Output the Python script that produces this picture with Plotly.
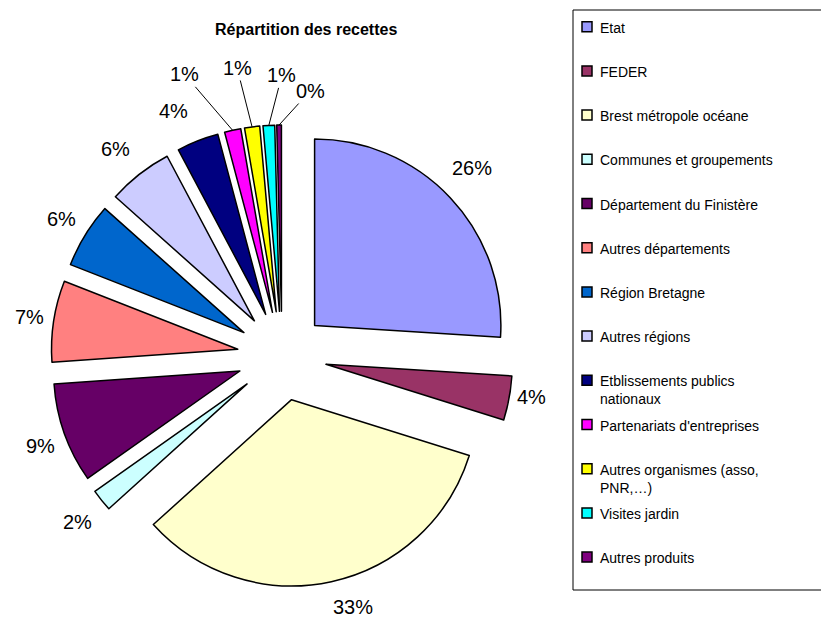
import math
import plotly.graph_objects as go

labels = ['Etat', 'FEDER', 'Brest métropole océane', 'Communes et groupements',
          'Département du Finistère', 'Autres départements', 'Région Bretagne',
          'Autres régions', 'Etblissements publics<br>nationaux',
          "Partenariats d'entreprises", 'Autres organismes (asso,<br>PNR,…)',
          'Visites jardin', 'Autres produits']
values = [25.8, 3.8, 33.2, 1.9, 8.6, 7.0, 5.6, 5.6, 3.6, 1.4, 1.3, 1.0, 0.4]
colors = ['#9999FF', '#993366', '#FFFFCC', '#CCFFFF', '#660066', '#FF8080', '#0066CC',
          '#CCCCFF', '#000080', '#FF00FF', '#FFFF00', '#00FFFF', '#800080']

W, H = 829, 617
font_plot = 'Arial, Liberation Sans, sans-serif'
PULL = 0.24
# pie box in pixels (left, right, top, bottom)
BOX = (43, 505, 117, 579)

def px(x):
    return x / W

def py(y):
    return 1 - y / H

# the four thinnest slices get leader lines (Excel style)
small = [9, 10, 11, 12]
leader_offsets = {9: (-48, -56), 10: (-15, -59), 11: (13, -50), 12: (31, -34)}

fig = go.Figure(go.Pie(
    labels=labels, values=values, sort=False, direction='clockwise', rotation=0,
    marker=dict(colors=colors, line=dict(color='black', width=1.5)),
    pull=[PULL] * len(values), textposition='none',
    domain=dict(x=[px(BOX[0]), px(BOX[1])], y=[py(BOX[3]), py(BOX[2])]),
    automargin=False, showlegend=False, hoverinfo='label+percent'))

annotations = []

# percentage labels placed outside each slice, from the slice angles
total = sum(values)
cx = (BOX[0] + BOX[1]) / 2
cy = (BOX[2] + BOX[3]) / 2
r_out = min(BOX[1] - BOX[0], BOX[3] - BOX[2]) / 2  # = r * (1 + pull)
lab_font = dict(size=20, color='black', family=font_plot)
cum = 0
for i, v in enumerate(values):
    theta = 2 * math.pi * (cum + v / 2) / total
    s, c = math.sin(theta), math.cos(theta)
    tx = cx + r_out * s
    ty = cy - r_out * c
    txt = '%d%%' % round(100 * v / total)
    if i in small:
        ax, ay = leader_offsets[i]
        annotations.append(dict(xref='paper', yref='paper', x=px(tx), y=py(ty),
                                ax=ax, ay=ay, text=txt, showarrow=True, arrowhead=0,
                                arrowwidth=1, arrowcolor='black', standoff=0, font=lab_font))
    else:
        if s >= 0:
            lx, ly = tx + 22, ty - 33 * c - 7
        else:
            lx, ly = tx - 24, ty - 33 * c + 1
        annotations.append(dict(xref='paper', yref='paper', x=px(lx), y=py(ly), text=txt,
                                showarrow=False, xanchor='center', yanchor='middle',
                                font=lab_font))
    cum += v

# legend drawn by hand (Excel style spacing)
shapes = [dict(type='rect', xref='paper', yref='paper', x0=px(565), x1=px(845),
               y0=py(582), y1=py(2), line=dict(color='black', width=1), fillcolor='white',
               layer='below')]
for i, (lab, col) in enumerate(zip(labels, colors)):
    yc = 18.7 + 44.2 * i
    shapes.append(dict(type='rect', xref='paper', yref='paper', x0=px(574), x1=px(584),
                       y0=py(yc + 5), y1=py(yc - 5), fillcolor=col,
                       line=dict(color='black', width=1.5)))
    annotations.append(dict(xref='paper', yref='paper', x=px(590), y=py(yc - 9),
                            text=lab, showarrow=False, xanchor='left', yanchor='top',
                            align='left', font=dict(size=14, color='black', family=font_plot)))

annotations.append(dict(xref='paper', yref='paper', x=px(298), y=py(22),
                        text='<b>Répartition des recettes</b>', showarrow=False,
                        yanchor='middle', font=dict(size=16, color='black', family=font_plot)))

fig.update_layout(autosize=False, width=W, height=H,
                  margin=dict(l=0, r=0, t=0, b=0, autoexpand=False),
                  paper_bgcolor='white', plot_bgcolor='white', font_family=font_plot,
                  shapes=shapes, annotations=annotations)

fig.write_html("out.html")
